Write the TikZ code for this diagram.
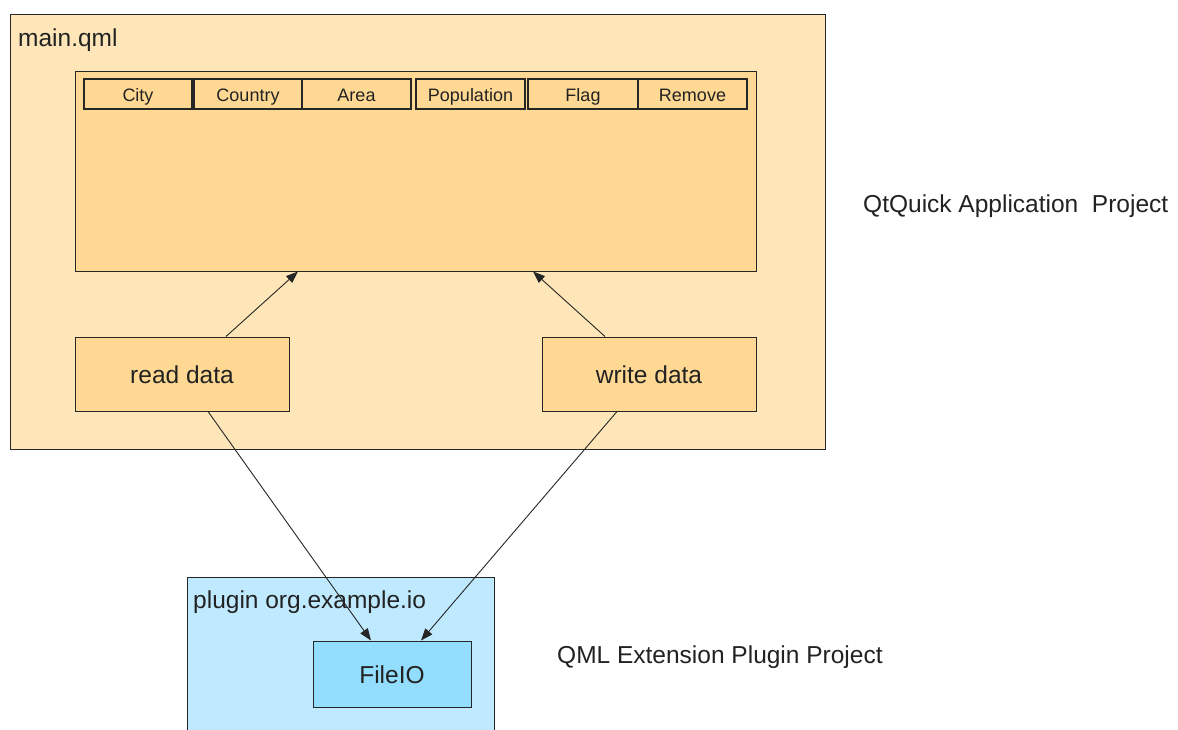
\documentclass[tikz,border=0pt]{standalone}
\usepackage{fontspec}
\setmainfont{Liberation Sans}
\usetikzlibrary{arrows.meta,calc}
\definecolor{outerfill}{HTML}{FFE6B8}
\definecolor{innerfill}{HTML}{FFD994}
\definecolor{plugfill}{HTML}{BFE9FF}
\definecolor{iofill}{HTML}{93DDFF}
\definecolor{txt}{HTML}{222222}
\tikzset{
  box/.style={draw=black!85, line width=1pt, inner sep=0pt, anchor=center, text=txt},
  cellbox/.style={box, fill=innerfill, line width=1.4pt, minimum height=30pt, text height=15pt, text depth=0pt, font=\fontsize{18}{21}\selectfont},
  databox/.style={box, text height=19pt, text depth=0pt, font=\fontsize{24.5}{28}\selectfont},
  big/.style={font=\fontsize{24.5}{28}\selectfont, text=txt, inner sep=0pt},
  conn/.style={draw=black!85, line width=0.9pt, -{Triangle[length=12pt,width=9pt]}},
}
\begin{document}
\begin{tikzpicture}[x=1pt,y=-1pt]
\useasboundingbox (0,0) rectangle (1178,729);
\fill[white] (0,0) rectangle (1178,729);
% containers
\node[box, fill=outerfill, minimum width=815pt, minimum height=435pt] (main) at (417.5,231.5) {};
\node[big, anchor=base west] (mainlbl) at (18,46) {main.qml};
\node[box, fill=innerfill, minimum width=681pt, minimum height=200pt] (table) at (415.5,171) {};
% header cells
\node[cellbox, minimum width=108pt] (city) at (138,94) {City};
\node[cellbox, minimum width=108pt] (country) at (248,94) {Country};
\node[cellbox, minimum width=109pt] (area) at (356.5,94) {Area};
\node[cellbox, minimum width=109pt] (pop) at (470.5,94) {Population};
\node[cellbox, minimum width=110pt] (flag) at (583,94) {Flag};
\node[cellbox, minimum width=109pt] (remove) at (692.5,94) {Remove};
% data boxes
\node[databox, fill=innerfill, minimum width=214pt, minimum height=74pt] (read) at (182,374) {read data};
\node[databox, fill=innerfill, minimum width=214pt, minimum height=74pt] (write) at (649,374) {write data};
% plugin
\node[box, fill=plugfill, minimum width=307pt, minimum height=160pt] (plugin) at (340.5,657) {};
\node[big, anchor=base west] (pluglbl) at (193,608) {plugin org.example.io};
\node[databox, fill=iofill, minimum width=158pt, minimum height=66pt] (fileio) at (392,674) {FileIO};
% side labels
\node[big, anchor=base west] (qtlbl) at (863,212) {QtQuick Application\ \ Project};
\node[big, anchor=base west] (qmllbl) at (557,663) {QML Extension Plugin Project};
% connectors
\draw[conn] ($(read.north)+(44,0)$) -- ($(table.south)+(-117.5,0)$);
\draw[conn] ($(write.north)+(-44,0)$) -- ($(table.south)+(117.5,0)$);
\draw[conn] ($(read.south)+(26,0)$) -- ($(fileio.north)+(-21,0)$);
\draw[conn] ($(write.south)+(-32,0)$) -- ($(fileio.north)+(29,0)$);
\end{tikzpicture}
\end{document}
